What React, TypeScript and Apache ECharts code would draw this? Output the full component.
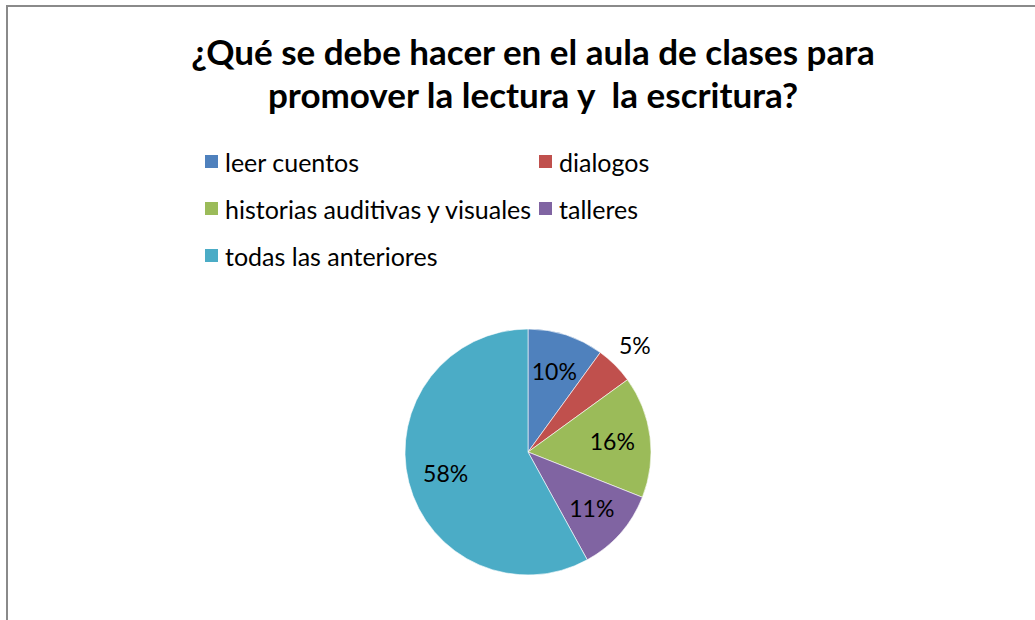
import React, { useEffect, useRef } from "react";
import * as echarts from "echarts";

const titleLines = ["¿Qué se debe hacer en el aula de clases para", "promover la lectura y  la escritura?"];
const categories = ["leer cuentos", "dialogos", "historias auditivas y visuales", "talleres", "todas las anteriores"];
const values = [10, 5, 16, 11, 58];
const colors = ["#4F81BD", "#C0504D", "#9BBB59", "#8064A2", "#4BACC6"];
const legendCol1 = ["leer cuentos", "historias auditivas y visuales", "todas las anteriores"];
const legendCol2 = ["dialogos", "talleres"];
const outsideLabels = ["dialogos"];

const FONT = "Lato";

export default function App() {
  const ref = useRef<HTMLDivElement>(null);
  useEffect(() => {
    if (!ref.current) return;
    const chart = echarts.init(ref.current, undefined, { renderer: "svg" });
    const center = [528, 452];
    const mainData = categories.map((name, i) => ({
      name,
      value: values[i],
      itemStyle: { color: colors[i] },
    }));
    const labelFmt = (p: any) => `${p.value}%`;
    const labelStyle = { color: "#000", fontSize: 23, fontFamily: FONT };
    const innerLabelData = categories.map((name, i) => ({
      name,
      value: values[i],
      itemStyle: { color: "rgba(0,0,0,0)" },
      label: { show: !outsideLabels.includes(name) },
    }));
    const outerLabelData = categories.map((name, i) => ({
      name,
      value: values[i],
      itemStyle: { color: "rgba(0,0,0,0)" },
      label: { show: outsideLabels.includes(name) },
    }));
    const legendBase = {
      orient: "vertical" as const,
      padding: 0,
      itemWidth: 15,
      itemHeight: 15,
      itemGap: 22,
      icon: "rect",
      selectedMode: false,
      textStyle: { fontSize: 25, fontFamily: FONT, color: "#000", lineHeight: 24, padding: [0, 0, 0, 1] },
    };
    chart.setOption({
      animation: false,
      backgroundColor: "#fff",
      title: {
        text: titleLines.join("\n"),
        left: 528,
        top: 24,
        textAlign: "center",
        textStyle: { fontSize: 35, fontWeight: "bold", fontFamily: FONT, color: "#000", lineHeight: 43 },
      },
      legend: [
        { ...legendBase, left: 203, top: 149, data: legendCol1 },
        { ...legendBase, left: 537, top: 149, data: legendCol2 },
      ],
      graphic: [
        {
          type: "rect",
          shape: { x: 7, y: 6, width: 1200, height: 800 },
          style: { fill: "none", stroke: "#8a8a8a", lineWidth: 2 },
          silent: true,
        },
      ],
      series: [
        {
          type: "pie",
          center,
          radius: [0, 123],
          startAngle: 90,
          clockwise: true,
          label: { show: false },
          labelLine: { show: false },
          itemStyle: { borderColor: "#fff", borderWidth: 0.6 },
          emphasis: { disabled: true },
          silent: true,
          data: mainData,
        },
        {
          type: "pie",
          center,
          radius: [0, 164],
          startAngle: 90,
          clockwise: true,
          label: { position: "inside", formatter: labelFmt, ...labelStyle },
          labelLine: { show: false },
          emphasis: { disabled: true },
          silent: true,
          data: innerLabelData,
        },
        {
          type: "pie",
          center,
          radius: [0, 296],
          startAngle: 90,
          clockwise: true,
          label: { position: "inside", formatter: labelFmt, ...labelStyle },
          labelLine: { show: false },
          emphasis: { disabled: true },
          silent: true,
          data: outerLabelData,
        },
      ],
    });
    return () => chart.dispose();
  }, []);
  return (
    <div
      ref={ref}
      style={{ position: "absolute", left: 0, top: 0, width: 1035, height: 620 }}
    />
  );
}
